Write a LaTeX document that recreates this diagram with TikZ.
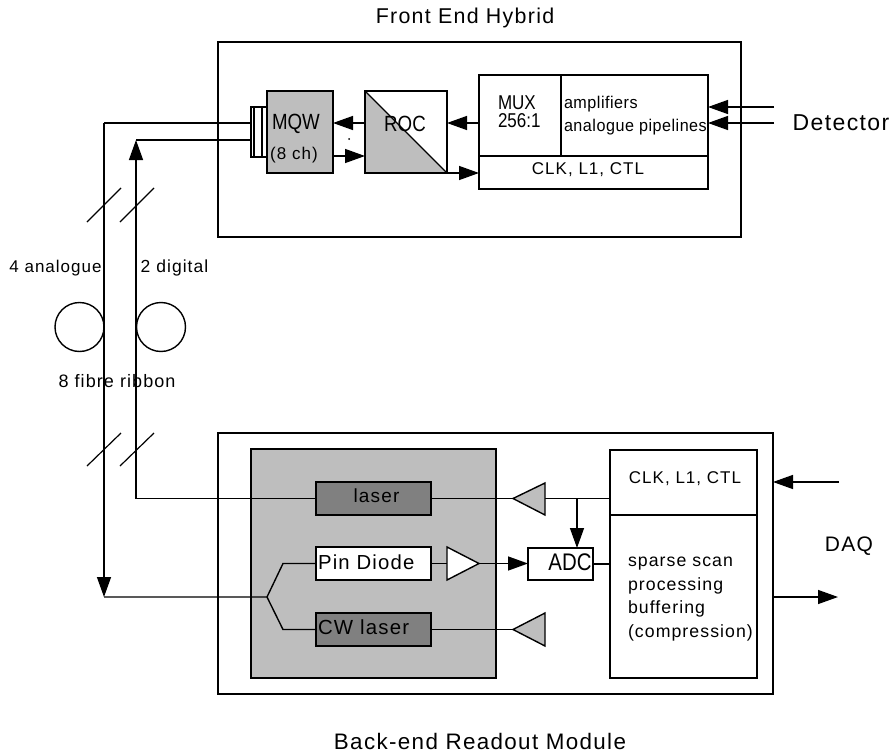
\documentclass[tikz,border=0pt]{standalone}
\usepackage{fontspec}
\setmainfont{Liberation Sans}[LetterSpace=6]
\newfontfamily\tightfont{Liberation Sans}[FakeStretch=0.85]
\newfontfamily\midfont{Liberation Sans}[LetterSpace=3,FakeStretch=0.95]
\usetikzlibrary{arrows.meta,calc}
\definecolor{lg}{HTML}{BEBEBE}
\definecolor{dg}{HTML}{808080}
\newcommand{\fs}[1]{\fontsize{#1}{#1}\selectfont}
\tikzset{
 every path/.style={line width=1.4pt},
 box/.style={draw=black,line width=1.4pt,rectangle,inner sep=0pt,outer sep=0pt},
 lbl/.style={inner sep=0pt,outer sep=0pt,text=black},
 conn/.style={draw=black,line width=1.4pt},
 arr/.style={conn,-{Triangle[length=20pt,width=14pt]}},
}
\newcommand{\bx}[6]{\node[box,#6,minimum width=#4pt-#2pt,minimum height=#5pt-#3pt] (#1) at ({(#2+#4)/2},{(#3+#5)/2}) {};}
\begin{document}
\begin{tikzpicture}[x=1pt,y=-1pt]
\useasboundingbox (0,0) rectangle (892,752);
% outer boxes
\bx{fe}{218}{42}{741}{237}{}
\bx{be}{218}{433}{773}{694}{}
\bx{opto}{251}{449}{496}{678}{fill=lg}
% front-end parts
\bx{stripe}{251}{107}{267}{157}{}
\draw[conn] (254,107) -- (254,157) (262,107) -- (262,157);
\bx{mqw}{267}{91}{333}{173}{fill=lg}
\bx{roc}{365}{91}{447}{173}{}
\fill[lg] (roc.north west) -- (roc.south east) -- (roc.south west) -- cycle;
\draw[conn] (roc.north west) rectangle (roc.south east);
\draw[conn] (roc.north west) -- (roc.south east);
\bx{mux}{479}{75}{708}{189}{}
\coordinate (muxsplitT) at (561,75);
\coordinate (muxsplitB) at (561,156);
\coordinate (muxdivL) at (479,156);
\coordinate (muxdivR) at (708,156);
\draw[conn] (muxsplitT) -- (muxsplitB) (muxdivL) -- (muxdivR);
% front-end ports
\coordinate (s1) at (251,123); \coordinate (s2) at (251,140);
\coordinate (v1t) at (104,123); \coordinate (v2t) at (136,140);
\coordinate (v1b) at (104,597); \coordinate (v2b) at (136,498.5);
\draw[conn] (s1) -- (v1t);
\draw[conn] (s2) -- (v2t);
\draw[arr] (v2b) -- (v2t);
\draw[arr] (v1t) -- (v1b);
\draw[arr] (roc.west|-s1) -- (mqw.east|-s1);
\draw[arr] (mux.west|-s1) -- (roc.east|-s1);
\draw[arr] (333,156) -- (365,156);
\draw[arr] (roc.south east) -- (mux.west|-roc.south east);
\coordinate (d1) at (774,107); \coordinate (d2) at (774,123);
\draw[arr] (d1) -- (mux.east|-d1);
\draw[arr] (d2) -- (mux.east|-d2);
\fill (349,139) circle (1pt);
% slashes
\draw[conn,line width=1.2pt] (87,222) -- (121,188) (120,222) -- (154,188) (87,466) -- (121,433) (120,466) -- (154,433);
\node[circle,draw=black,line width=1.4pt,minimum size=49pt,inner sep=0pt] (c1) at (79.5,327) {};
\node[circle,draw=black,line width=1.4pt,minimum size=49pt,inner sep=0pt] (c2) at (161,327) {};
% back-end parts
\bx{laser}{316}{482}{431}{515}{fill=dg}
\bx{pin}{316}{547}{431}{580}{fill=white}
\bx{cw}{316}{613}{431}{646}{fill=dg}
\bx{adc}{528}{548}{593}{580}{fill=white}
\bx{ctl}{610}{450}{757}{678}{}
\coordinate (ctldivL) at (610,515); \coordinate (ctldivR) at (757,515);
\draw[conn] (ctldivL) -- (ctldivR);
\coordinate (j) at (267,597); \coordinate (ju) at (283,563.5); \coordinate (jd) at (283,629.5);
\draw[conn] (v2b) -- (laser.west);
\draw[conn] (v1b) -- (j) -- (ju) -- (pin.west);
\draw[conn] (j) -- (jd) -- (cw.west);
\coordinate (t1tip) at (513,498.5); \coordinate (t2tip) at (513,629.5);
\coordinate (t3tip) at (479,563.5);
\coordinate (t1base) at (545,498.5);
\draw[conn] (laser.east) -- (t1tip);
\draw[conn] (cw.east) -- (t2tip);
\draw[conn] (t1base) -- (ctl.west|-t1base);
\draw[conn] (pin.east) -- (447,563.5);
\draw[conn,fill=lg,line join=miter] (t1tip) -- (545,483) -- (545,515) -- cycle;
\draw[conn,fill=lg,line join=miter] (t2tip) -- (545,613) -- (545,646) -- cycle;
\draw[conn,fill=white,line join=miter] (t3tip) -- (447,547) -- (447,580) -- cycle;
\draw[arr] (t3tip) -- (adc.west|-t3tip);
\draw[arr] (577,498.5) -- (577,548);
\draw[conn] (adc.east) -- (ctl.west|-adc.east);
\coordinate (dq1) at (839,482); \coordinate (dq2) at (838,597);
\draw[arr] (dq1) -- (be.east|-dq1);
\draw[arr] (be.east|-dq2) -- (dq2);
% labels
\node[lbl,font=\fs{21.4}] (tfe) at (465,18) {Front End Hybrid};
\node[lbl,font=\tightfont\fs{22}] (tmqw) at (296,124) {MQW};
\node[lbl,font=\fs{17}] (tch) at (294,155) {(8 ch)};
\node[lbl,font=\tightfont\fs{22}] (troc) at (405,124) {ROC};
\node[lbl,font=\tightfont\fs{20},anchor=west,align=left] (tmux) at (498,112) {MUX\\[-2pt]256:1};
\node[lbl,font=\midfont\fs{17},anchor=west] (tamp) at (564,104) {amplifiers};
\node[lbl,font=\midfont\fs{17},anchor=west] (tana) at (564,127) {analogue pipelines};
\node[lbl,font=\fs{17}] (tclk1) at (588,170) {CLK, L1, CTL};
\node[lbl,font=\fs{23}] (tdet) at (841,123) {Detector};
\node[lbl,font=\fs{17}] (t4a) at (55.5,268) {4 analogue};
\node[lbl,font=\fs{17.5}] (t2d) at (174.5,268) {2 digital};
\node[lbl,font=\fs{18}] (t8f) at (117,381) {8 fibre ribbon};
\node[lbl,font=\fs{19}] (tlas) at (376.5,496) {laser};
\node[lbl,font=\fs{20.3},anchor=west] (tpin) at (318,562) {Pin Diode};
\node[lbl,font=\fs{20.4},anchor=west] (tcw) at (318,627) {CW laser};
\node[lbl,font=\tightfont\fs{24}] (tadc) at (570,562) {ADC};
\node[lbl,font=\fs{17}] (tclk2) at (685,479) {CLK, L1, CTL};
\node[lbl,font=\fs{17.7},anchor=west,align=left] (tproc) at (628,599) {sparse scan\\[5.8pt]processing\\[5.8pt]buffering\\[5.8pt](compression)};
\node[lbl,font=\fs{21}] (tdaq) at (849,546) {DAQ};
\node[lbl,font=\fs{22.4}] (tbe) at (480,741) {Back-end Readout Module};
\end{tikzpicture}
\end{document}
